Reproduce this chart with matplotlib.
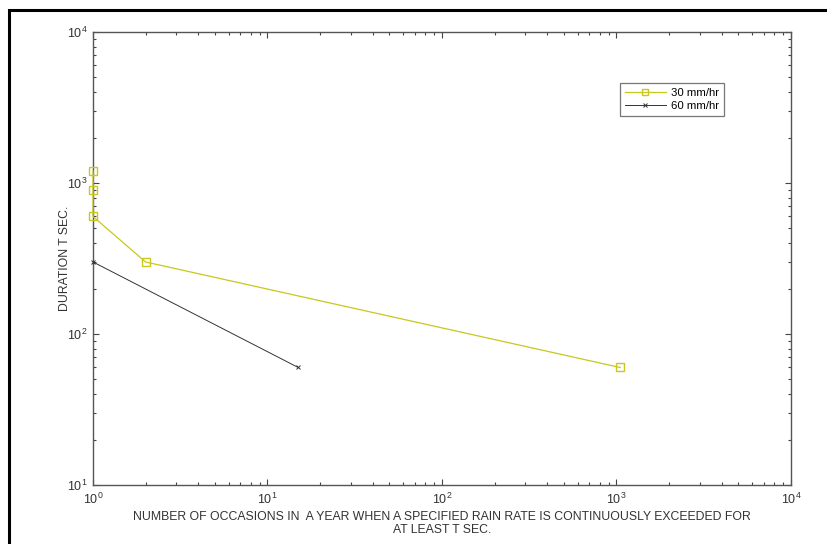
import matplotlib
matplotlib.use("Agg")
import matplotlib.pyplot as plt
from matplotlib.patches import Rectangle

plt.rcParams['font.family'] = ['Liberation Sans', 'DejaVu Sans']
plt.rcParams['mathtext.default'] = 'regular'

# Data
x30 = [1, 1, 1, 2, 1050]
y30 = [1200, 900, 600, 300, 60]
x60 = [1, 15]
y60 = [300, 60]
labels = ['30 mm/hr', '60 mm/hr']
xlabel = 'NUMBER OF OCCASIONS IN  A YEAR WHEN A SPECIFIED RAIN RATE IS CONTINUOUSLY EXCEEDED FOR\nAT LEAST T SEC.'
ylabel = 'DURATION T SEC.'

W, H = 828, 544
fig = plt.figure(figsize=(W / 100, H / 100), dpi=100)
ax = fig.add_axes([93 / W, 1 - 485 / H, (791 - 93) / W, (485 - 32) / H])

ycol = '#c8c81e'
ax.plot(x30, y30, color=ycol, lw=0.9, marker='s', markersize=6,
        markerfacecolor='none', markeredgecolor=ycol, markeredgewidth=1.0,
        label=labels[0], clip_on=False, zorder=3)
ax.plot(x60, y60, color='#333333', lw=0.7, marker='x', markersize=3,
        markeredgewidth=0.7, label=labels[1], clip_on=False, zorder=3)

ax.set_xscale('log')
ax.set_yscale('log')
ax.set_xlim(1, 1e4)
ax.set_ylim(10, 1e4)

for s in ax.spines.values():
    s.set_color('#555555')
    s.set_linewidth(1.0)
ax.tick_params(which='both', direction='in', top=True, right=True, colors='#444444',
               labelsize=9, labelcolor='#333333')
ax.tick_params(which='major', length=4, width=0.8)
ax.tick_params(which='minor', length=2.5, width=0.8)
ax.tick_params(axis='x', pad=5)
ax.tick_params(axis='y', pad=4)

ax.set_xlabel(xlabel, fontsize=8.8, color='#333333', labelpad=3, linespacing=1.05)
ax.set_ylabel(ylabel, fontsize=8.8, color='#333333', labelpad=-3)

leg = ax.legend(loc='upper left', bbox_to_anchor=(527 / 698, 1 - 51 / 453), fontsize=8.2,
                frameon=True, fancybox=False, borderpad=0.4, handlelength=3.6,
                handletextpad=0.5, labelspacing=0.3, borderaxespad=0)
leg.get_frame().set_edgecolor('#555555')
leg.get_frame().set_linewidth(0.9)
leg.legend_handles[0].set_markersize(5)

# outer frame
fig.add_artist(Rectangle((9 / W, -0.1), 1.2, 1 - 10 / H + 0.1, transform=fig.transFigure,
                         fill=False, edgecolor='black', linewidth=2.2))

fig.savefig('out.png', dpi=100)
